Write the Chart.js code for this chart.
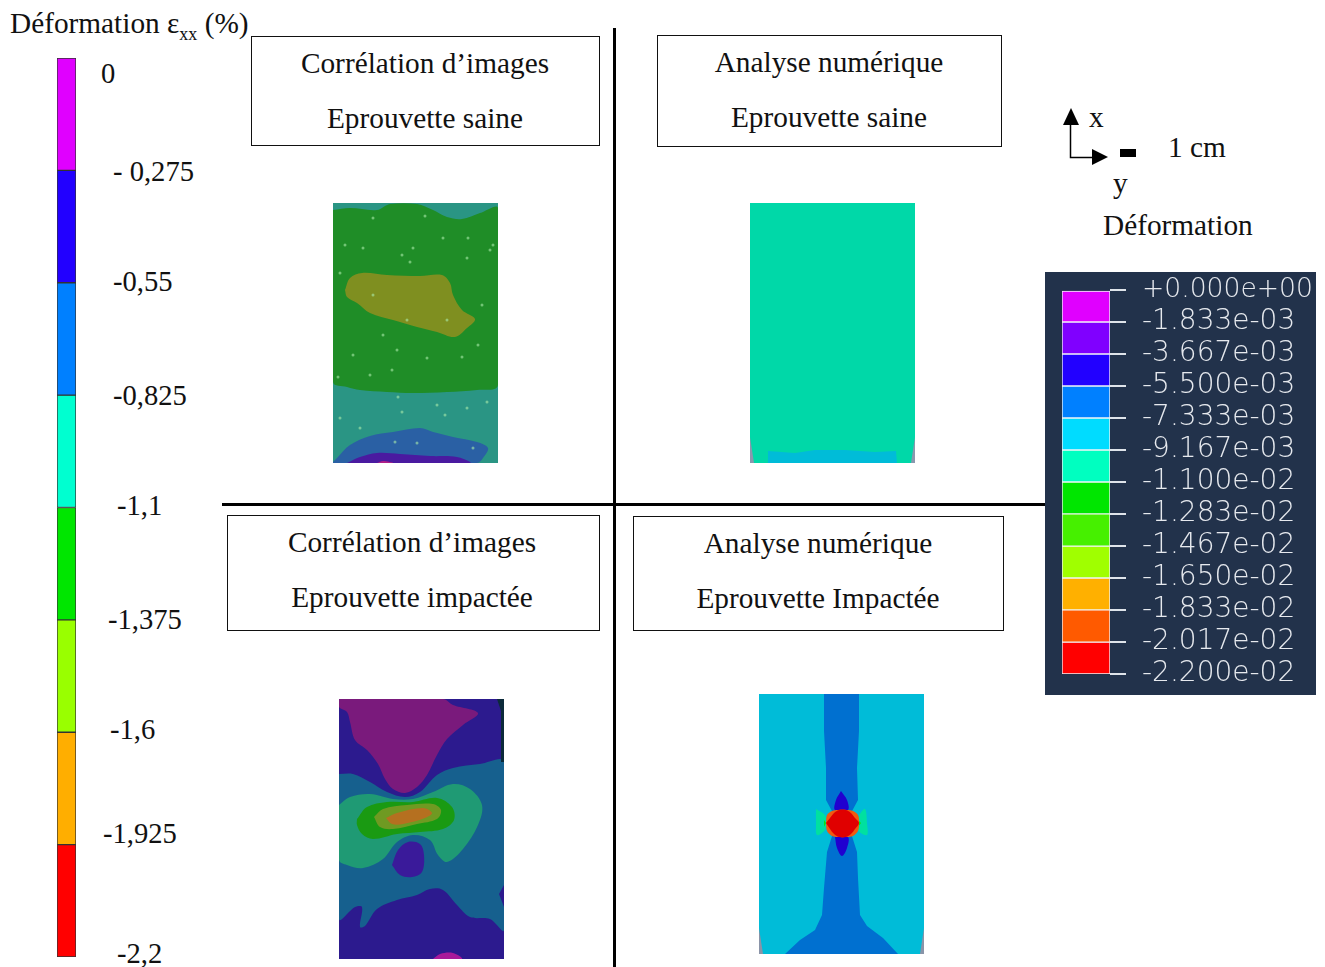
<!DOCTYPE html>
<html lang="fr">
<head>
<meta charset="utf-8">
<title>Déformation</title>
<script src="https://cdn.jsdelivr.net/npm/chart.js@4/dist/chart.umd.min.js"></script>
<style>
  html, body { margin: 0; padding: 0; background: #fff; }
  #page { position: relative; width: 1325px; height: 967px; overflow: hidden; font-family: "Liberation Serif", serif; color: #111; }
  #page canvas { position: absolute; }
  .txt { position: absolute; font-size: 29.3px; line-height: 1; white-space: nowrap; transform: translateY(-50%); }
  .mid { transform: translate(-50%, -50%); }
  .box { position: absolute; border: 1px solid #111; box-sizing: border-box; }
  .rule { position: absolute; background: #000; }
  sub { font-size: 18px; line-height: 0; }
</style>
</head>
<body>
<div id="page"></div>
<script>
// left colour scale, % strain
const scaleEdges = [0, -0.275, -0.55, -0.825, -1.1, -1.375, -1.65, -1.925, -2.2];
const scaleColors = ["#e000ff", "#2200ff", "#0080ff", "#00ffd0", "#00e600", "#99ff00", "#ffae00", "#ff0000"];
const scaleLabels = ["0", "- 0,275", "-0,55", "-0,825", "-1,1", "-1,375", "-1,6", "-1,925", "-2,2"];
const scaleLabelX = [101, 113, 113, 113, 117, 108, 110, 103, 117];
const scaleLabelY = [74, 172, 282, 396, 506, 620, 730, 834, 954];

// right (solver) legend
const fieldLevels = [0, -0.001833, -0.003667, -0.0055, -0.007333, -0.009167, -0.011, -0.01283, -0.01467, -0.0165, -0.01833, -0.02017, -0.022];
const fieldLabels = ["+0.000e+00", "-1.833e-03", "-3.667e-03", "-5.500e-03", "-7.333e-03", "-9.167e-03", "-1.100e-02", "-1.283e-02", "-1.467e-02", "-1.650e-02", "-1.833e-02", "-2.017e-02", "-2.200e-02"];
const fieldColors = ["#e000ff", "#8000ff", "#2200ff", "#0080ff", "#00dcff", "#00ffc0", "#00e600", "#46f000", "#a0ff00", "#ffb000", "#ff5a00", "#ff0000"];

// contour regions, specimen units (0-165 wide, 0-260 tall), listed bottom layer first
const fullRect = [[0, 0], [165, 0], [165, 260], [0, 260]];

const tlGreen = [[0, 7], [17, 5], [44, 7], [57, 1], [84, 1], [100, 7], [114, 14], [129, 16], [147, 10], [165, 5], [165, 182], [144, 187], [114, 189], [80, 190], [54, 189], [27, 187], [14, 184], [0, 179]];
const tlOlive = [[12, 87], [17, 75], [29, 70], [54, 72], [87, 73], [109, 72], [117, 80], [120, 92], [129, 107], [142, 116], [134, 125], [122, 134], [104, 129], [84, 124], [60, 117], [37, 110], [24, 100], [14, 94]];
const tlBlue = [[0, 259], [4, 255], [17, 242], [37, 233], [60, 229], [87, 225], [100, 229], [120, 234], [144, 239], [155, 245], [150, 255], [144, 260], [0, 260]];
const tlPurple = [[14, 260], [27, 254], [44, 250], [67, 251], [97, 253], [124, 254], [137, 260]];
const tlPink = [[44, 260], [50, 258], [60, 260]];
const tlSpeckle = [[92, 13], [40, 15], [69, 52], [160, 42], [157, 47], [149, 102], [64, 147], [59, 167], [145, 142], [129, 154], [5, 174], [65, 194], [112, 212], [69, 209], [104, 202], [40, 92], [74, 117], [114, 117], [7, 70], [12, 42], [30, 45], [110, 35], [134, 55], [50, 132], [94, 155], [20, 152], [37, 172], [80, 45], [77, 59], [135, 35], [7, 215], [27, 225], [134, 205], [154, 199], [62, 239], [84, 240], [140, 245]];

const blTop = [[0, 0], [104, 0], [114, 6], [139, 14], [124, 26], [108, 40], [98, 56], [88, 76], [78, 88], [66, 94], [54, 90], [46, 80], [39, 65], [28, 51], [16, 41], [11, 23], [8, 13], [0, 8]];
const blBand = [[0, 75], [14, 75], [31, 83], [48, 93], [66, 98], [81, 93], [98, 76], [114, 69], [141, 65], [165, 63], [165, 231], [151, 220], [131, 218], [118, 206], [104, 191], [91, 190], [78, 196], [58, 201], [38, 210], [26, 227], [21, 228], [23, 208], [16, 208], [0, 220]];
const blTeal = [[0, 106], [11, 98], [31, 95], [54, 100], [74, 100], [94, 93], [114, 85], [131, 90], [143, 106], [139, 126], [124, 150], [108, 163], [99, 156], [91, 141], [74, 136], [58, 143], [44, 160], [24, 169], [8, 166], [0, 161]];
const blGreen = [[18, 120], [28, 108], [48, 103], [74, 103], [98, 99], [113, 108], [115, 121], [104, 130], [81, 133], [58, 135], [34, 140], [23, 135], [18, 126]];
const blOlive = [[35, 118], [44, 110], [68, 106], [94, 105], [102, 111], [98, 120], [78, 125], [54, 130], [41, 128]];
const blOrange = [[47, 119], [58, 114], [84, 109], [93, 114], [86, 119], [64, 125], [53, 125]];
const blBlob = [[53, 166], [59, 151], [69, 143], [81, 145], [85, 156], [83, 173], [73, 178], [61, 176]];
const blFoot = [[94, 260], [101, 255], [114, 254], [123, 260]];
const blNotch = [[165, 186], [160, 195], [165, 208]];
const blEdge = [[158, 0], [165, 0], [165, 63], [162, 63], [162, 12]];

const trStrip = [[18, 260], [18, 248], [45, 250], [65, 247], [95, 247], [125, 249], [146, 248], [147, 260]];
const cornerLeft = [[0, 234], [4, 260], [0, 260]];
const cornerRight = [[165, 234], [161, 260], [165, 260]];

const brBlue = [[100, 0], [100, 37], [98, 74], [99, 106], [92, 119], [92, 139], [98, 158], [99, 184], [101, 221], [108, 232], [124, 244], [139, 260], [26, 260], [41, 246], [56, 236], [63, 221], [65, 194], [68, 158], [74, 139], [74, 119], [67, 106], [67, 74], [65, 37], [65, 0]];
const brPetalTop = [[82, 97], [88, 106], [89, 116], [76, 116], [77, 106]];
const brPetalBottom = [[76, 143], [89, 143], [88, 154], [83, 162], [78, 154]];
const brWingLeft = [[57, 115], [66, 121], [67, 128], [66, 136], [58, 141], [57, 129]];
const brWingRight = [[100, 121], [106, 115], [108, 129], [108, 141], [99, 136]];
const brGreenLeft = [[65, 126], [67, 129], [65, 133]];
const brGreenRight = [[99, 126], [102, 129], [99, 133]];
const brOrange = [[67, 129], [68, 121], [73, 117], [79, 116], [88, 116], [94, 117], [99, 121], [100, 129], [99, 137], [94, 142], [88, 143], [79, 143], [73, 142], [68, 137]];
const brRed = [[67, 129], [71, 124], [75, 119], [80, 116], [87, 116], [92, 119], [96, 124], [100, 129], [96, 135], [92, 140], [87, 143], [80, 143], [75, 140], [71, 135]];

const page = document.getElementById("page");

function addCanvas(x, y, w, h) {
  var canvas = document.createElement("canvas");
  canvas.width = w;
  canvas.height = h;
  canvas.style.left = x + "px";
  canvas.style.top = y + "px";
  canvas.style.width = w + "px";
  canvas.style.height = h + "px";
  page.appendChild(canvas);
  return canvas.getContext("2d");
}

function addText(html, x, y, centred, size) {
  var el = document.createElement("div");
  el.className = centred ? "txt mid" : "txt";
  el.style.left = x + "px";
  el.style.top = y + "px";
  if (size) el.style.fontSize = size + "px";
  el.innerHTML = html;
  page.appendChild(el);
}

function addDiv(cls, x, y, w, h) {
  var el = document.createElement("div");
  el.className = cls;
  el.style.left = x + "px";
  el.style.top = y + "px";
  el.style.width = w + "px";
  el.style.height = h + "px";
  page.appendChild(el);
}

function region(points, color, smooth) {
  var ring = points.concat([points[0]]).map(function (p) { return { x: p[0], y: p[1] }; });
  return {
    data: ring,
    backgroundColor: color,
    borderWidth: 0,
    pointRadius: 0,
    fill: "shape",
    tension: smooth ? 0.35 : 0,
  };
}

function drawPanel(x, y, layers, speckle) {
  // first dataset is painted last, so flip the bottom-first list
  var datasets = layers.slice().reverse();
  if (speckle) {
    datasets.unshift({
      data: speckle.map(function (p) { return { x: p[0], y: p[1] }; }),
      showLine: false,
      pointRadius: 1.5,
      borderWidth: 0,
      pointBackgroundColor: "rgba(170,235,170,0.6)",
    });
  }
  return new Chart(addCanvas(x, y, 165, 260), {
    type: "line",
    data: { datasets: datasets },
    options: {
      responsive: false,
      animation: false,
      layout: { padding: 0, autoPadding: false },
      plugins: { legend: { display: false }, tooltip: { enabled: false } },
      scales: {
        x: { type: "linear", min: 0, max: 165, display: false },
        y: { type: "linear", min: 0, max: 260, reverse: true, display: false },
      },
    },
  });
}

function drawScaleBar() {
  var datasets = scaleColors.map(function (color, i) {
    return {
      data: [[scaleEdges[i], scaleEdges[i + 1]]],
      backgroundColor: color,
      borderColor: "#333",
      borderWidth: 1,
      borderSkipped: false,
      grouped: false,
      barPercentage: 1,
      categoryPercentage: 1,
    };
  });
  return new Chart(addCanvas(57, 58, 19, 899), {
    type: "bar",
    data: { labels: ["ε"], datasets: datasets },
    options: {
      responsive: false,
      animation: false,
      layout: { padding: 0 },
      plugins: { legend: { display: false }, tooltip: { enabled: false } },
      scales: {
        x: { display: false },
        y: { min: -2.2, max: 0, display: false },
      },
    },
  });
}

function drawFieldLegend() {
  var datasets = fieldColors.map(function (color, i) {
    return {
      data: [[fieldLevels[i], fieldLevels[i + 1]]],
      backgroundColor: color,
      borderColor: "#f2f4f7",
      borderWidth: 1,
      borderSkipped: false,
      grouped: false,
      barPercentage: 1,
      categoryPercentage: 1,
    };
  });
  return new Chart(addCanvas(1045, 272, 271, 423), {
    type: "bar",
    data: { labels: ["e"], datasets: datasets },
    options: {
      responsive: false,
      animation: false,
      layout: { padding: { top: 18, bottom: 21, left: 17, right: 0 }, autoPadding: false },
      plugins: { legend: { display: false }, tooltip: { enabled: false } },
      scales: {
        x: { display: false },
        y: {
          position: "right",
          min: -0.022,
          max: 0,
          afterBuildTicks: function (axis) {
            axis.ticks = fieldLevels.map(function (v) { return { value: v }; });
          },
          afterFit: function (axis) {
            axis.width = 206;
            axis.paddingTop = 0;
            axis.paddingBottom = 0;
          },
          border: { display: false },
          grid: { drawOnChartArea: false, color: "#dfe4ea", tickLength: 16, lineWidth: 2 },
          ticks: {
            autoSkip: false,
            padding: 16,
            color: "#e6e9ee",
            // the +0.000e+00 label runs wider, it has to stay inside the panel
            font: function (ctx) {
              return { family: "'DejaVu Sans'", size: ctx.index === 0 ? 26.6 : 28, weight: 200 };
            },
            callback: function (v, i) { return fieldLabels[i]; },
          },
        },
      },
    },
  });
}

// page background for the solver legend
addDiv("rule", 1045, 272, 271, 423);
page.lastChild.style.background = "#22324b";

drawScaleBar();
drawFieldLegend();

drawPanel(333, 203, [
  region(fullRect, "#2a9584"),
  region(tlGreen, "#1f8d27", true),
  region(tlOlive, "#7f8f20", true),
  region(tlBlue, "#2a60a4", true),
  region(tlPurple, "#4a1aa0", true),
  region(tlPink, "#b02088", true),
], tlSpeckle);

drawPanel(750, 203, [
  region(fullRect, "#00d8a8"),
  region(trStrip, "#00bcd8"),
  region(cornerLeft, "#8a98ae"),
  region(cornerRight, "#8a98ae"),
]);

drawPanel(339, 699, [
  region(fullRect, "#2c1a8e"),
  region(blTop, "#7a1a7c", true),
  region(blBand, "#16608e", true),
  region(blTeal, "#1f9a74", true),
  region(blGreen, "#1a9a12", true),
  region(blOlive, "#6f9a22", true),
  region(blOrange, "#b57020", true),
  region(blBlob, "#3a1a9a", true),
  region(blFoot, "#a81a9a", true),
  region(blNotch, "#2c1a8e"),
  region(blEdge, "#0c2a3a"),
]);

drawPanel(759, 694, [
  region(fullRect, "#00bcd8"),
  region(brBlue, "#0070d0"),
  region(brPetalTop, "#2000d0", true),
  region(brPetalBottom, "#2000d0", true),
  region(brWingLeft, "#00e0a0", true),
  region(brWingRight, "#00e0a0", true),
  region(brGreenLeft, "#10e010"),
  region(brGreenRight, "#10e010"),
  region(brOrange, "#f05a10", true),
  region(brRed, "#e00000", true),
  region(cornerLeft, "#8a94a8"),
  region(cornerRight, "#8a94a8"),
]);

// dividing lines and title boxes
addDiv("rule", 613, 28, 3, 939);
addDiv("rule", 222, 503, 823, 3);
addDiv("box", 251, 36, 349, 110);
addDiv("box", 657, 35, 345, 112);
addDiv("box", 227, 515, 373, 116);
addDiv("box", 633, 516, 371, 115);

addText("Déformation ε<sub>xx</sub> (%)", 10, 24);
addText("Corrélation d’images", 425, 64, true);
addText("Eprouvette saine", 425, 119, true);
addText("Analyse numérique", 829, 63, true);
addText("Eprouvette saine", 829, 118, true);
addText("Corrélation d’images", 412, 543, true);
addText("Eprouvette impactée", 412, 598, true);
addText("Analyse numérique", 818, 544, true);
addText("Eprouvette Impactée", 818, 599, true);

scaleLabels.forEach(function (label, i) {
  addText(label, scaleLabelX[i], scaleLabelY[i], false, 28.6);
});

addText("x", 1089, 118);
addText("1 cm", 1168, 148);
addText("y", 1113, 184);
addText("Déformation", 1103, 226);

// orientation arrows and 1 cm scale mark
var ns = "http://www.w3.org/2000/svg";
var svg = document.createElementNS(ns, "svg");
svg.setAttribute("width", "1325");
svg.setAttribute("height", "967");
svg.style.position = "absolute";
svg.style.left = "0";
svg.style.top = "0";
svg.innerHTML =
  '<path d="M1070.5 122V157.5H1094" fill="none" stroke="#000" stroke-width="1.5"/>' +
  '<path d="M1071 108L1079 125H1063Z" fill="#000"/>' +
  '<path d="M1108 157L1092 149V165Z" fill="#000"/>' +
  '<rect x="1120" y="149" width="16" height="8" fill="#000"/>';
page.appendChild(svg);
</script>
</body>
</html>
